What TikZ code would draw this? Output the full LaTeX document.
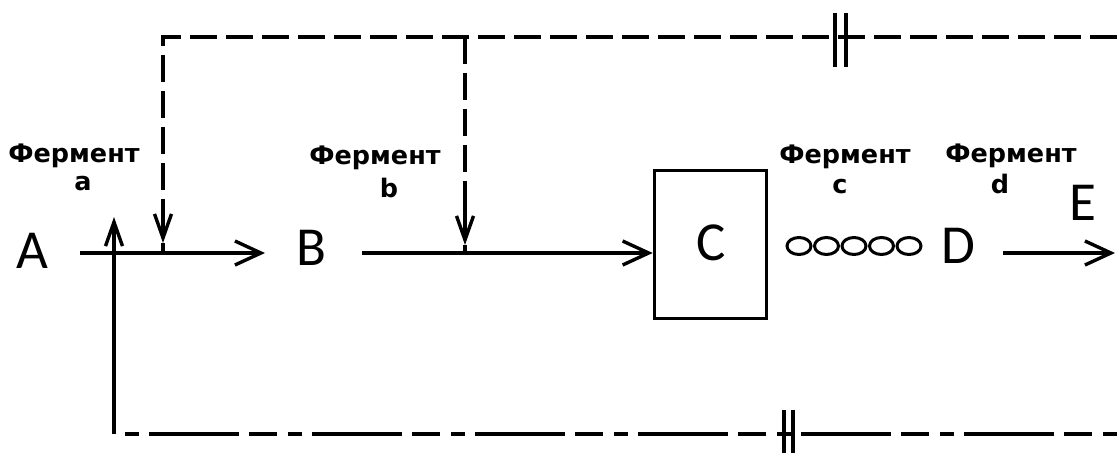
\documentclass[tikz,border=0pt]{standalone}
\usepackage{fontspec}
\setmainfont{Carlito}
\newfontfamily\fermfont{DejaVu Sans Bold}
\usetikzlibrary{arrows.meta,shapes.geometric}
\begin{document}
\begin{tikzpicture}[x=1pt,y=-1pt,line width=3.6pt,
  letter/.style={font=\fontsize{55}{55}\selectfont,inner sep=0pt,anchor=base},
  enz/.style={font=\fermfont\fontsize{25.5}{25.5}\selectfont,inner sep=0pt,anchor=base},
  fb/.style={dash pattern=on 27pt off 9pt},
  bigtip/.style={-{Straight Barb[length=26pt,width=24pt,line width=3.4pt]}},
  smalltip/.style={-{Straight Barb[length=24pt,width=17pt,line width=3.4pt]}},
  ring/.style={draw,ellipse,line width=3pt,minimum width=24pt,minimum height=17pt,inner sep=0pt},
  box/.style={draw,rectangle,minimum width=112pt,minimum height=148pt,inner sep=0pt}]
\useasboundingbox (0,0) rectangle (1117,453);

% letters
\node[letter] (A) at (32,268) {A};
\node[letter] (B) at (311,265) {B};
\node[box] (Cbox) at (710.5,244.5) {};
\node[letter] (C) at (711,260) {C};
\node[letter] (D) at (958,263) {D};
\node[letter] (E) at (1083,220) {E};

% enzyme labels
\node[enz] (fa) at (74,162) {Фермент};
\node[enz] (la) at (83,190) {a};
\node[enz] (fb) at (375,164) {Фермент};
\node[enz] (lb) at (389,197) {b};
\node[enz] (fc) at (845,163) {Фермент};
\node[enz] (lc) at (840,193) {c};
\node[enz] (fd) at (1011,162) {Фермент};
\node[enz] (ld) at (1000,193) {d};

% rings
\node[ring] (o1) at (799,246) {};
\node[ring] (o2) at (826.5,246) {};
\node[ring] (o3) at (854,246) {};
\node[ring] (o4) at (881.5,246) {};
\node[ring] (o5) at (909,246) {};

% main line coordinates
\coordinate (a0) at (80,253);
\coordinate (a1) at (265,253);
\coordinate (b0) at (362,253);
\coordinate (d0) at (1003,253);
\coordinate (d1) at (1115,253);
\draw[bigtip] (a0) -- (a1);
\draw[bigtip] (b0) -- (Cbox.west |- b0);
\draw[bigtip] (d0) -- (d1);

% top feedback
\coordinate (t1) at (163,37);
\coordinate (t2) at (465,37);
\coordinate (tr) at (1117,37);
\coordinate (t1s) at (163,208);
\coordinate (t1h) at (163,243);
\coordinate (t1e) at (163,253);
\coordinate (t2s) at (465,208);
\coordinate (t2h) at (465,245);
\coordinate (t2e) at (465,253);
\draw[fb] (tr) -- (t1) -- (t1s);
\draw[fb] (t2) -- (t2s);
\draw[smalltip] (t1s) -- (t1h);
\draw (t1h) -- (t1e);
\draw[smalltip] (t2s) -- (t2h);
\draw (t2h) -- (t2e);

% bottom feedback
\coordinate (bl) at (114,434);
\coordinate (br) at (1117,434);
\coordinate (bh) at (114,217);
\draw[dash pattern=on 14pt off 11pt on 28pt off 10pt on 90pt off 10pt] (br) -- (bl);
\draw[smalltip] (bl) -- (bh);

% break marks
\coordinate (k1a) at (835,13); \coordinate (k1b) at (835,67);
\coordinate (k2a) at (846,13); \coordinate (k2b) at (846,67);
\coordinate (k3a) at (784,410); \coordinate (k3b) at (784,453);
\coordinate (k4a) at (793,410); \coordinate (k4b) at (793,453);
\draw (k1a) -- (k1b);
\draw (k2a) -- (k2b);
\draw (k3a) -- (k3b);
\draw (k4a) -- (k4b);
\end{tikzpicture}
\end{document}
